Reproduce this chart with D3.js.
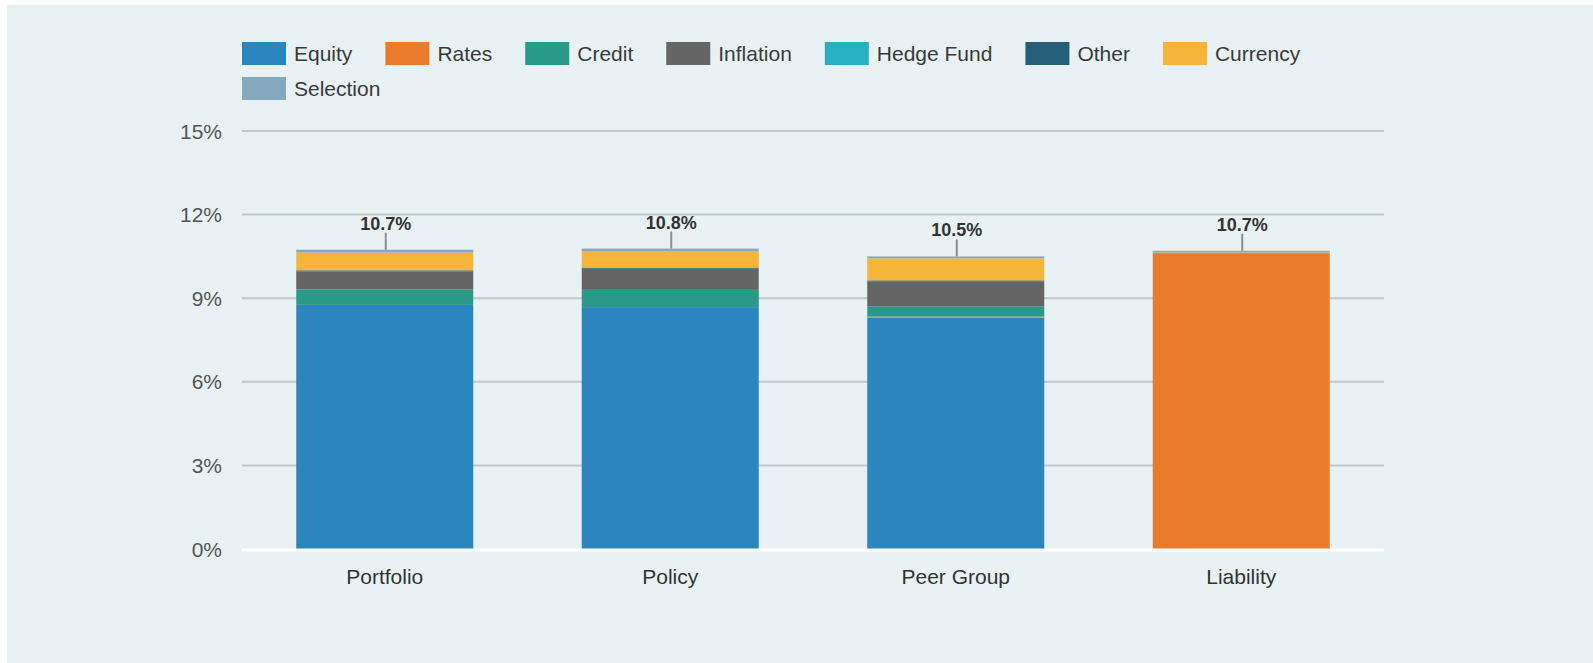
<!DOCTYPE html>
<html lang="en">
<head>
    <meta charset="UTF-8">
    <script src="https://d3js.org/d3.v7.min.js"></script>
    <title>Risk Contribution</title>
    <style>
        body {
            margin: 0;
            background: white;
        }
        svg text {
            font-family: "Liberation Sans", Arial, sans-serif;
        }
    </style>
</head>
<body>
    <div id="chart"></div>
    <script>
        // categories and series
        const categories = ["Portfolio", "Policy", "Peer Group", "Liability"];
        const seriesNames = ["Equity", "Rates", "Credit", "Inflation", "Hedge Fund", "Other", "Currency", "Selection"];
        const seriesColors = ["#2b86c0", "#e97c2c", "#2a9a88", "#656565", "#27b0c2", "#255f79", "#f4b53a", "#85a9be"];

        // values in % per category
        const equity    = [8.76, 8.68, 8.30, 0];
        const rates     = [0, 0, 0.04, 10.62];
        const credit    = [0.55, 0.62, 0.36, 0];
        const inflation = [0.65, 0.76, 0.90, 0];
        const hedgeFund = [0, 0, 0, 0];
        const other     = [0.04, 0.04, 0.04, 0];
        const currency  = [0.64, 0.58, 0.79, 0.02];
        const selection = [0.10, 0.10, 0.07, 0.06];

        const yTicks = [0, 3, 6, 9, 12, 15];

        const width = 1593, height = 663;
        const plot = { left: 242, right: 1384, top: 131, bottom: 549 };

        const seriesValues = [equity, rates, credit, inflation, hedgeFund, other, currency, selection];
        const rows = categories.map((c, i) => {
            const row = { category: c };
            seriesNames.forEach((s, j) => row[s] = seriesValues[j][i]);
            return row;
        });

        const svg = d3.select("#chart").append("svg")
            .attr("width", width)
            .attr("height", height);

        // background panel
        svg.append("rect")
            .attr("x", 7).attr("y", 5)
            .attr("width", width - 7).attr("height", height - 5)
            .attr("fill", "#e8f2f5");

        const x = d3.scaleBand()
            .domain(categories)
            .range([plot.left, plot.right])
            .paddingInner(0.38)
            .paddingOuter(0.19);

        const y = d3.scaleLinear()
            .domain([0, 15])
            .range([plot.bottom, plot.top]);

        const color = d3.scaleOrdinal().domain(seriesNames).range(seriesColors);

        // grid
        svg.append("g")
            .selectAll("line")
            .data(yTicks.filter(d => d > 0))
            .join("line")
            .attr("x1", plot.left).attr("x2", plot.right)
            .attr("y1", d => y(d)).attr("y2", d => y(d))
            .attr("stroke", "#c3c8cb")
            .attr("stroke-width", 2);

        // y tick labels
        svg.append("g")
            .selectAll("text")
            .data(yTicks)
            .join("text")
            .attr("x", 222)
            .attr("y", d => y(d))
            .attr("dy", "0.36em")
            .attr("text-anchor", "end")
            .attr("font-size", 21)
            .attr("fill", "#555")
            .text(d => d + "%");

        // stacked bars
        const stacked = d3.stack().keys(seriesNames)(rows);

        svg.append("g")
            .selectAll("g")
            .data(stacked)
            .join("g")
            .attr("fill", d => color(d.key))
            .selectAll("rect")
            .data(d => d)
            .join("rect")
            .attr("x", d => x(d.data.category))
            .attr("width", x.bandwidth())
            .attr("y", d => y(d[1]))
            .attr("height", d => y(d[0]) - y(d[1]));

        // zero line
        svg.append("line")
            .attr("x1", plot.left).attr("x2", plot.right)
            .attr("y1", y(0) + 1).attr("y2", y(0) + 1)
            .attr("stroke", "#ffffff")
            .attr("stroke-width", 3);

        // totals with leader lines
        const totals = rows.map(r => ({
            category: r.category,
            total: d3.sum(seriesNames, s => r[s])
        }));

        const labels = svg.append("g");
        labels.selectAll("line")
            .data(totals)
            .join("line")
            .attr("x1", d => x(d.category) + x.bandwidth() / 2 + 1)
            .attr("x2", d => x(d.category) + x.bandwidth() / 2 + 1)
            .attr("y1", d => y(d.total) - 17)
            .attr("y2", d => y(d.total))
            .attr("stroke", "#8a8f92")
            .attr("stroke-width", 2);

        labels.selectAll("text")
            .data(totals)
            .join("text")
            .attr("x", d => x(d.category) + x.bandwidth() / 2 + 1)
            .attr("y", d => y(d.total) - 20)
            .attr("text-anchor", "middle")
            .attr("font-size", 18)
            .attr("font-weight", "bold")
            .attr("fill", "#333")
            .text(d => (Math.round(d.total * 10) / 10).toFixed(1) + "%");

        // category labels
        svg.append("g")
            .selectAll("text")
            .data(categories)
            .join("text")
            .attr("x", d => x(d) + x.bandwidth() / 2)
            .attr("y", 576)
            .attr("dy", "0.36em")
            .attr("text-anchor", "middle")
            .attr("font-size", 21)
            .attr("fill", "#333")
            .text(d => d);

        // legend, wrapping at the plot's right edge
        const legend = svg.append("g");
        let lx = plot.left, ly = 42;
        seriesNames.forEach(name => {
            const item = legend.append("g");
            item.append("rect")
                .attr("width", 44).attr("height", 23)
                .attr("fill", color(name));
            const t = item.append("text")
                .attr("x", 52).attr("y", 11.5)
                .attr("dy", "0.36em")
                .attr("font-size", 21)
                .attr("fill", "#3a3a3a")
                .text(name);
            const w = 52 + t.node().getComputedTextLength();
            if (lx + w > plot.right - 60 && lx > plot.left) {
                lx = plot.left;
                ly += 35;
            }
            item.attr("transform", `translate(${lx},${ly})`);
            lx += w + 33;
        });
    </script>
</body>
</html>
